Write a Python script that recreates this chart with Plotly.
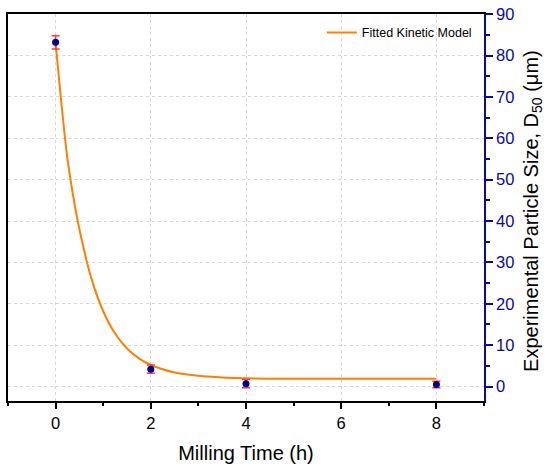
import plotly.graph_objects as go

# experimental D50 points
time_h = [0, 2, 4, 8]
d50 = [83.2, 4.2, 0.7, 0.5]
d50_err = [1.6, 1.0, 1.0, 0.8]

# fitted kinetic model
fit_t = [0, 0.1, 0.25, 0.4, 0.5, 0.75, 1.0, 1.25, 1.5, 1.75, 2.0, 2.5, 3.0, 3.5, 4.0, 5.0, 6.0, 7.0, 8.0]
fit_d50 = [83.0, 71.0, 55.0, 44.0, 38.0, 26.2, 18.2, 12.8, 9.2, 6.8, 5.2, 3.4, 2.6, 2.2, 2.0, 1.9, 1.9, 1.9, 1.9]

xticks = [0, 2, 4, 6, 8]

blue = "#0A0A9E"

fig = go.Figure()

fig.add_trace(go.Scatter(
    x=fit_t, y=fit_d50, mode="lines", name="Fitted Kinetic Model",
    line=dict(color="#FF8000", width=2, shape="spline"),
))

fig.add_trace(go.Scatter(
    x=time_h, y=d50, mode="markers", showlegend=False,
    marker=dict(color="#00008B", size=7),
    error_y=dict(type="data", array=d50_err, color="#FF3B3B", thickness=1.5, width=4),
))

fig.update_layout(
    width=550, height=468,
    margin=dict(l=8, r=66, t=14, b=67),
    plot_bgcolor="white", paper_bgcolor="white",
    font=dict(family="Liberation Sans, Arial, sans-serif", color="black"),
    showlegend=True,
    legend=dict(x=0.985, y=0.99, xanchor="right", yanchor="top",
                bgcolor="rgba(0,0,0,0)", font=dict(size=12.5)),
    xaxis=dict(
        range=[-1, 9], tickvals=xticks, automargin=False,
        showline=True, linecolor="black", linewidth=1.5, mirror=True,
        ticks="outside", ticklen=6, tickwidth=1.5, tickcolor="black",
        minor=dict(dtick=1, tick0=1, ticks="outside", ticklen=3, tickwidth=1.5,
                   tickcolor="black", showgrid=False),
        showgrid=True, gridcolor="#d8d8d8", griddash="dot", gridwidth=1,
        zeroline=False,
        tickfont=dict(size=16.5, color="black"),
        title=dict(text="Milling Time (h)", font=dict(size=20, color="black")),
    ),
    yaxis=dict(
        side="right", range=[-3.5, 90.05], dtick=10, automargin=False,
        showline=True, linecolor=blue, linewidth=1.5,
        ticks="outside", ticklen=7, tickwidth=1.5, tickcolor=blue,
        minor=dict(dtick=5, ticks="outside", ticklen=4, tickwidth=1.5,
                   tickcolor=blue, showgrid=False),
        showgrid=True, gridcolor="#d8d8d8", griddash="dot", gridwidth=1,
        zeroline=False,
        tickfont=dict(size=16.5, color=blue),
    ),
    yaxis2=dict(
        overlaying="y", side="left", range=[-3.5, 90.05], automargin=False,
        showline=True, linecolor="black", linewidth=1.5,
        showticklabels=False, ticks="", showgrid=False, zeroline=False,
    ),
)

# right axis title placed by hand so it sits where the reference has it
fig.add_annotation(
    text="Experimental Particle Size, D<sub>50</sub> (μm)",
    xref="paper", yref="paper", x=1.102, y=0.49,
    xanchor="center", yanchor="middle", textangle=-90, showarrow=False,
    font=dict(size=20, color="black"),
)

# invisible trace to anchor the left frame axis
fig.add_trace(go.Scatter(x=[None], y=[None], yaxis="y2", showlegend=False, hoverinfo="skip"))

# drop the default page margin so the figure fills the window exactly
fig.write_html("out.html", config={"displayModeBar": False},
               post_script="document.body.style.margin='0';")
